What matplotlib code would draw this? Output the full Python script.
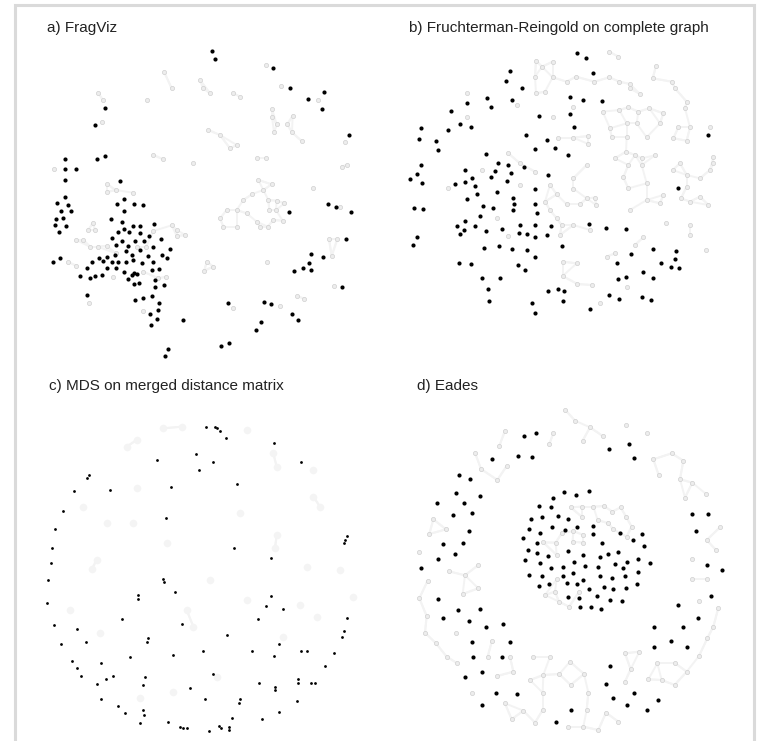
import numpy as np
import matplotlib
matplotlib.use("Agg")
import matplotlib.pyplot as plt

plt.rcParams["font.family"] = ["Liberation Sans", "DejaVu Sans"]

# layout coordinates per panel (arbitrary layout units, y grows downward)
titles = ["a) FragViz", "b) Fruchterman-Reingold on complete graph",
          "c) MDS on merged distance matrix", "d) Eades"]

a_black = [(635,153),(645,178),(818,205),(870,265),(925,297),(972,277),(965,327),(1047,404),
    (316,323),(285,376),(292,477),(316,467),(196,476),(196,507),(228,507),(196,539),(360,542),
    (195,590),(170,608),(205,615),(183,633),(213,634),(167,656),(190,653),(165,675),(199,678),
    (178,697),(373,598),(352,612),(402,611),(428,614),(372,633),(332,658),(367,667),(373,686),
    (398,679),(420,677),(461,673),(355,697),(387,697),(421,698),(446,708),(335,715),(366,723),
    (404,724),(431,722),(484,718),(348,734),(385,739),(458,742),(509,748),(378,752),(419,751),
    (344,765),(397,765),(485,765),(320,770),(296,773),(443,768),(500,775),(158,785),(181,774),
    (276,785),(309,784),(336,786),(354,787),(377,785),(398,779),(427,788),(458,786),(260,805),
    (322,803),(348,804),(373,815),(403,818),(411,821),(455,809),(478,806),(240,829),(270,835),
    (285,829),(306,826),(396,826),(385,837),(401,852),(416,848),(466,840),(493,855),(464,860),
    (262,886),(405,901),(430,893),(456,888),(477,908),(474,930),(451,943),(471,956),(454,975),
    (550,961),(685,909),(791,906),(814,913),(875,943),(894,961),(782,967),(768,989),(664,1038),
    (686,1030),(503,1046),(494,1069),(934,762),(970,771),(928,788),(908,805),(934,810),(883,813),
    (1037,718),(1027,861),(985,612),(1008,620),(1054,637),(868,635)]
a_grey = [(163,507),(322,553),(322,576),(347,570),(398,578),(279,668),(265,690),(285,690),
    (250,720),(228,720),(270,740),(293,740),(320,738),(410,740),(438,740),(347,760),(460,693),
    (515,676),(530,690),(530,708),(556,705),(205,786),(228,797),(340,830),(430,815),(475,835),
    (498,830),(268,909),(428,932),(306,367),(308,300),(295,278),(620,785),(640,800),(613,812),
    (800,785),(700,925),(839,918),(892,888),(912,896),(987,717),(1012,717),(995,768),(1003,857),
    (816,327),(816,351),(830,373),(862,373),(822,397),(876,397),(878,347),(842,257),(797,194),
    (953,300),(905,423),(1035,427),(1040,495),(770,475),(797,475),(775,540),(815,553),(790,570),
    (757,582),(805,600),(830,602),(853,610),(808,630),(828,630),(848,662),(780,680),(803,680),
    (820,660),(770,665),(730,600),(710,630),(680,630),(670,680),(710,680),(660,655),(740,640),
    (600,240),(610,265),(630,280),(515,265),(492,215),(460,465),(490,478),(580,490),(625,390),
    (660,405),(690,445),(710,435),(440,300),(700,280),(720,290),(940,565),(1025,500),(1020,620)]

b_black = [(590,158),(618,175),(640,218),(390,214),(378,243),(425,263),(569,292),(610,300),
    (665,303),(322,295),(332,322),(260,308),(397,300),(212,332),(239,372),(274,381),(204,390),
    (124,384),(118,416),(167,424),(175,449),(476,347),(569,343),(581,380),(439,406),(502,419),
    (526,443),(464,448),(563,466),(319,463),(353,488),(384,496),(432,500),(344,513),(394,519),
    (256,510),(277,533),(333,530),(381,542),(503,524),(124,495),(110,523),(90,538),(125,550),
    (226,553),(255,547),(284,557),(465,568),(350,575),(291,583),(260,596),(400,593),(402,612),
    (398,631),(465,612),(310,617),(340,623),(470,640),(102,624),(130,627),(301,648),(255,663),
    (230,678),(284,677),(252,689),(240,703),(317,693),(367,688),(419,676),(464,676),(512,677),
    (418,699),(440,703),(466,710),(500,704),(628,673),(679,683),(738,688),(112,711),(100,734),
    (313,744),(358,738),(395,746),(440,750),(545,738),(466,772),(236,789),(273,791),(413,794),
    (436,811),(710,790),(753,762),(818,747),(888,752),(885,778),(842,790),(872,802),(896,804),
    (788,815),(739,830),(714,836),(820,833),(305,833),(361,833),(323,868),(328,902),(505,873),
    (534,866),(553,874),(548,902),(455,910),(465,940),(630,927),(686,885),(718,898),(785,891),
    (813,899),(895,565),(985,405)]
b_grey = [(468,182),(486,200),(518,185),(688,155),(715,170),(465,230),(518,232),(560,245),
    (588,230),(643,245),(688,232),(718,245),(750,252),(750,265),(780,282),(828,198),(818,235),
    (875,245),(885,265),(468,280),(495,275),(578,322),(668,335),(718,330),(745,322),(775,335),
    (808,325),(850,340),(920,305),(915,325),(260,280),(262,350),(410,316),(518,350),(690,385),
    (740,370),(770,370),(840,370),(895,382),(930,382),(990,380),(535,413),(580,413),(625,408),
    (625,432),(695,412),(740,412),(800,412),(880,415),(920,422),(385,460),(420,490),(465,515),
    (510,555),(580,535),(580,566),(620,495),(705,475),(738,455),(765,465),(785,475),(825,466),
    (900,490),(878,510),(745,495),(785,495),(730,532),(745,565),(800,550),(920,525),(920,560),
    (960,535),(990,510),(1000,470),(1000,490),(960,590),(985,615),(903,595),(930,605),(850,585),
    (840,610),(800,600),(530,583),(560,613),(600,613),(620,595),(645,593),(648,615),(495,605),
    (510,630),(530,655),(545,675),(580,675),(630,690),(540,705),(385,708),(350,655),(680,770),
    (705,760),(750,630),(858,670),(930,675),(930,706),(790,712),(765,735),(978,750),(548,785),
    (590,790),(548,828),(592,852),(635,855),(740,862),(660,910),(420,555),(305,510),(205,565)]

c_black = [(617,170),(644,170),(652,175),(660,182),(678,205),(823,218),(902,275),(640,275),
    (588,252),(597,300),(472,270),(268,315),(262,323),(222,362),(330,360),(513,350),(710,341),
    (190,423),(498,445),(165,478),(155,533),(152,580),(145,630),(142,698),(1040,497),(1036,510),
    (1033,520),(703,533),(814,563),(488,628),(492,637),(525,667),(415,676),(415,688),(812,678),
    (797,708),(848,717),(365,748),(162,765),(232,777),(547,763),(774,748),(1040,745),(1032,783),
    (1025,800),(444,805),(440,817),(182,822),(257,817),(681,795),(837,823),(518,855),(608,842),
    (757,843),(823,858),(903,843),(920,843),(1002,848),(389,862),(215,873),(303,878),(230,895),
    (976,888),(243,918),(318,928),(338,917),(291,941),(436,922),(430,945),(640,913),(776,938),
    (824,950),(824,960),(893,928),(893,938),(932,940),(946,940),(570,953),(302,988),(616,987),
    (720,987),(718,998),(890,993),(355,1008),(376,1030),(430,1020),(433,1035),(837,1025),
    (420,1060),(503,1055),(540,1070),(548,1075),(560,1075),(656,1068),(662,1073),(688,1070),
    (686,1080),(627,1083),(697,1045),(787,1047)]
c_grey = [(490,175),(545,170),(740,180),(410,210),(380,230),(820,250),(830,290),(940,300),
    (410,355),(320,460),(400,460),(720,430),(940,380),(960,410),(250,410),(830,495),(825,535),
    (920,590),(1020,600),(275,598),(290,570),(630,630),(500,520),(560,720),(580,770),(210,720),
    (300,790),(850,800),(950,740),(1060,680),(650,920),(420,985),(520,965),(900,705),(740,690)]

d_black = [(432,198),(467,190),(687,236),(746,222),(762,263),(337,268),(414,258),(456,262),
    (236,315),(270,328),(228,370),(300,378),(170,400),(253,398),(218,435),(276,430),(267,484),
    (188,522),(248,518),(175,567),(225,553),(124,595),(175,687),(233,720),(300,718),(190,745),
    (266,752),(318,772),(369,762),(275,815),(390,815),(280,860),(365,860),(255,920),(305,905),
    (348,968),(410,972),(307,1005),(527,1055),(572,1020),(678,942),(690,888),(698,985),
    (740,1005),(763,970),(800,1021),(835,990),(822,830),(822,772),(874,813),(922,830),(910,770),
    (955,745),(895,705),(993,677),(980,585),(1025,600),(948,483),(937,433),(985,433),
    (520,383),(552,367),(588,375),(626,362),(476,407),(512,410),(454,446),(487,440),(535,437),
    (565,447),(447,478),(481,488),(515,470),(555,480),(590,470),(640,468),(430,505),(470,520),
    (640,492),(665,520),(720,490),(760,510),(787,492),(793,527),(443,540),(470,548),(505,558),
    (565,543),(610,555),(660,560),(684,552),(714,545),(740,576),(775,566),(810,578),(435,570),
    (480,580),(512,595),(548,590),(583,576),(615,588),(653,592),(705,583),(730,593),(448,615),
    (487,618),(548,617),(580,608),(610,630),(660,618),(696,625),(735,617),(773,607),(476,648),
    (507,643),(560,638),(590,643),(628,656),(672,652),(700,657),(737,653),(772,643),(565,680),
    (596,684),(650,678),(690,690),(726,692),(600,712),(632,712),(664,718)]
d_grey = [(556,120),(585,152),(630,172),(668,198),(737,165),(800,190),(875,250),(910,272),
    (820,268),(836,315),(900,328),(937,338),(915,383),(978,372),(1020,472),(980,510),(1008,540),
    (937,568),(935,628),(982,628),(956,692),(1015,714),(1000,770),(982,805),(957,858),(920,905),
    (886,880),(884,945),(845,930),(832,880),(778,845),(735,850),(752,898),(735,935),(805,928),
    (520,190),(508,222),(608,212),(375,182),(358,228),(285,248),(303,297),(380,288),(352,330),
    (160,448),(198,478),(148,492),(118,545),(207,604),(255,616),(295,585),(295,655),(248,672),
    (143,632),(118,685),(140,738),(135,788),(168,820),(228,790),(200,860),(232,880),(336,812),
    (323,860),(390,860),(460,860),(510,860),(570,875),(400,905),(352,918),(450,930),(490,915),
    (538,912),(612,912),(572,945),(275,968),(375,1000),(430,1022),(488,968),(488,1020),
    (625,968),(620,1020),(678,1028),(715,1055),(565,1070),(610,1070),(655,1080),(465,1058),
    (395,1048),(572,412),(605,410),(640,410),(672,408),(697,425),(722,412),(605,440),(653,450),
    (685,460),(738,440),(755,470),(545,490),(580,483),(610,495),(700,478),(740,500),(490,517),
    (527,518),(578,515),(610,518),(530,555),(530,628),(495,675),(525,665),(537,695),(567,710),
    (598,665)]

panels = [(a_black, a_grey), (b_black, b_grey), (c_black, c_grey), (d_black, d_grey)]
origins = [(0, 0), (380, 0), (0, 370), (380, 370)]   # panel corners, px
W, H = 760, 741

fig = plt.figure(figsize=(W / 100, H / 100), dpi=100)

# light frame round the whole figure (open at the bottom)
frame = fig.add_axes([0, 0, 1, 1])
frame.set_xlim(0, W); frame.set_ylim(H, 0); frame.axis("off")
frame.plot([15, 15, 754, 754], [H, 5, 5, H], color="#dadada", lw=2.2, solid_joinstyle="miter")


def soft_links(ax, pts, k=2, maxd=60, color="#f3f3f3"):
    p = np.array(pts, float)
    for i in range(len(p)):
        d = np.hypot(*(p - p[i]).T)
        for j in np.argsort(d)[1:k + 1]:
            if d[j] < maxd:
                ax.plot(p[[i, j], 0], p[[i, j], 1], color=color, lw=1.4, zorder=1,
                        solid_capstyle="round")


for i, ((blk, gry), (ox, oy), title) in enumerate(zip(panels, origins, titles)):
    ax = fig.add_axes([ox / W, 1 - (oy + 370) / H, 380 / W, 370 / H])
    ax.set_xlim(0, 1140); ax.set_ylim(1110, 0); ax.axis("off")
    g = np.array(gry, float); b = np.array(blk, float)
    soft_links(ax, gry)
    if i == 2:
        ax.scatter(g[:, 0], g[:, 1], s=30, c="#f4f4f4", lw=0, zorder=2)
        ax.scatter(b[:, 0], b[:, 1], s=4, c="black", lw=0, zorder=3)
    else:
        ax.scatter(g[:, 0], g[:, 1], s=9, facecolor="#ededed", edgecolor="#cfcfcf",
                   lw=0.5, zorder=2)
        ax.scatter(b[:, 0], b[:, 1], s=9, c="black", lw=0, zorder=3)
    tx = 140 if i == 0 else (88 if i == 1 else (148 if i == 2 else 112))
    ty = 85 if i < 2 else 48
    ax.text(tx, ty, title, fontsize=11, color="#222222", ha="left", va="center")

fig.savefig("out.png", dpi=100)
